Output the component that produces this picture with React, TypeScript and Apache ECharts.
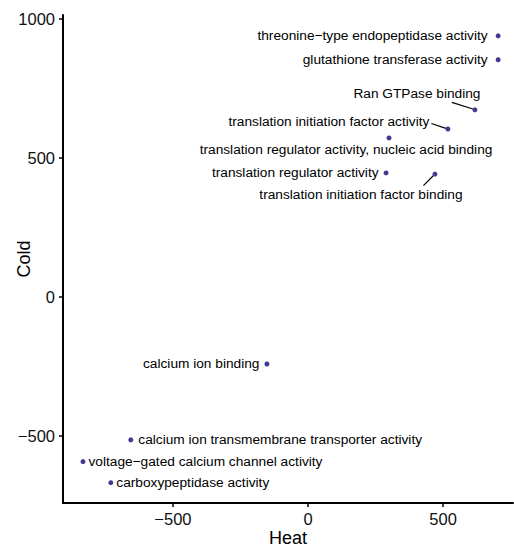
import React, { useEffect, useRef } from "react";
import * as echarts from "echarts";

const terms = [
  "threonine\u2212type endopeptidase activity",
  "glutathione transferase activity",
  "Ran GTPase binding",
  "translation initiation factor activity",
  "translation regulator activity, nucleic acid binding",
  "translation regulator activity",
  "translation initiation factor binding",
  "calcium ion binding",
  "calcium ion transmembrane transporter activity",
  "voltage\u2212gated calcium channel activity",
  "carboxypeptidase activity",
];
const heatValues = [704, 704, 618, 518, 300, 289, 470, -152, -656, -833, -730];
const coldValues = [939, 853, 673, 604, 572, 446, 442, -241, -514, -592, -668];
const xTicks = [-500, 0, 500];
const yTicks = [-500, 0, 500, 1000];

// label placement (style only, pixel offsets relative to each point)
type Place = { position: string; distance?: number; dx?: number; dy?: number };
const placements: Place[] = [
  { position: "left", distance: 8 },
  { position: "left", distance: 8 },
  { position: "inside", dx: -58, dy: -16 },
  { position: "inside", dx: -119, dy: -8 },
  { position: "inside", dx: -43, dy: 12 },
  { position: "left", distance: 5 },
  { position: "inside", dx: -74, dy: 20 },
  { position: "left", distance: 5 },
  { position: "right", distance: 5 },
  { position: "right", distance: 3 },
  { position: "right", distance: 3 },
];

// leader segments (pixel offsets from the point), keyed by term index
const leaderIndex = [2, 3, 6];
const leaderOffsets = [
  { a: [-23, -7.5], b: [-2, -0.8] },
  { a: [-16.5, -5.5], b: [-2, -0.7] },
  { a: [-11.5, 11.5], b: [-1.7, 1.7] },
];

const fmt = (v: number) => String(v).replace("-", "\u2212");
const FONT = "'Liberation Sans', Arial, Helvetica, sans-serif";

export default function App() {
  const ref = useRef<HTMLDivElement>(null);
  useEffect(() => {
    document.body.style.margin = "0";
    if (!ref.current) return;
    const chart = echarts.init(ref.current, undefined, { renderer: "svg" });
    const data = terms.map((t, i) => {
      const p = placements[i];
      return {
        name: t,
        value: [heatValues[i], coldValues[i]],
        label: { position: p.position, distance: p.distance ?? 5 },
      };
    });
    chart.setOption({
      animation: false,
      backgroundColor: "#fff",
      grid: { left: 63, right: 1, top: 15, bottom: 47, outerBoundsMode: "none" },
      xAxis: {
        type: "value",
        min: -907,
        max: 759,
        name: "Heat",
        nameLocation: "middle",
        nameGap: 26,
        nameMoveOverlap: false,
        nameTextStyle: { fontSize: 18, color: "#000", fontFamily: FONT },
        axisLine: { show: true, onZero: false, lineStyle: { color: "#000", width: 2 } },
        axisTick: { show: true, customValues: xTicks, length: 4, lineStyle: { color: "#000", width: 1.5 } },
        axisLabel: { customValues: xTicks, formatter: fmt, fontSize: 16.5, color: "#111", margin: 7, fontFamily: FONT },
        splitLine: { show: false },
      },
      yAxis: {
        type: "value",
        min: -741,
        max: 1014,
        name: "Cold",
        nameLocation: "middle",
        nameGap: 30,
        nameMoveOverlap: false,
        nameTextStyle: { fontSize: 18, color: "#000", fontFamily: FONT },
        axisLine: { show: true, onZero: false, lineStyle: { color: "#000", width: 2 } },
        axisTick: { show: true, customValues: yTicks, length: 4, lineStyle: { color: "#000", width: 1.5 } },
        axisLabel: { customValues: yTicks, formatter: fmt, fontSize: 16.5, color: "#111", margin: 8, fontFamily: FONT },
        splitLine: { show: false },
      },
      series: [
        {
          type: "custom",
          silent: true,
          z: 1,
          data: leaderIndex.map((i) => [heatValues[i], coldValues[i]]),
          renderItem: (params: any, api: any) => {
            const c = api.coord([api.value(0), api.value(1)]);
            const o = leaderOffsets[params.dataIndex];
            return {
              type: "line",
              shape: { x1: c[0] + o.a[0], y1: c[1] + o.a[1], x2: c[0] + o.b[0], y2: c[1] + o.b[1] },
              style: { stroke: "#000", lineWidth: 1.2 },
            };
          },
        },
        {
          type: "scatter",
          z: 2,
          symbolSize: 5,
          itemStyle: { color: "#3f3a8f", opacity: 1 },
          data,
          label: {
            show: true,
            formatter: (p: any) => p.name,
            fontSize: 13.7,
            color: "#000",
            fontFamily: FONT,
          },
          labelLayout: (params: any) => {
            const p = placements[params.dataIndex];
            if (p && p.dx !== undefined) return { dx: p.dx, dy: p.dy };
            return {};
          },
        },
      ],
    });
    return () => chart.dispose();
  }, []);
  return <div ref={ref} style={{ width: 514, height: 550 }} />;
}
